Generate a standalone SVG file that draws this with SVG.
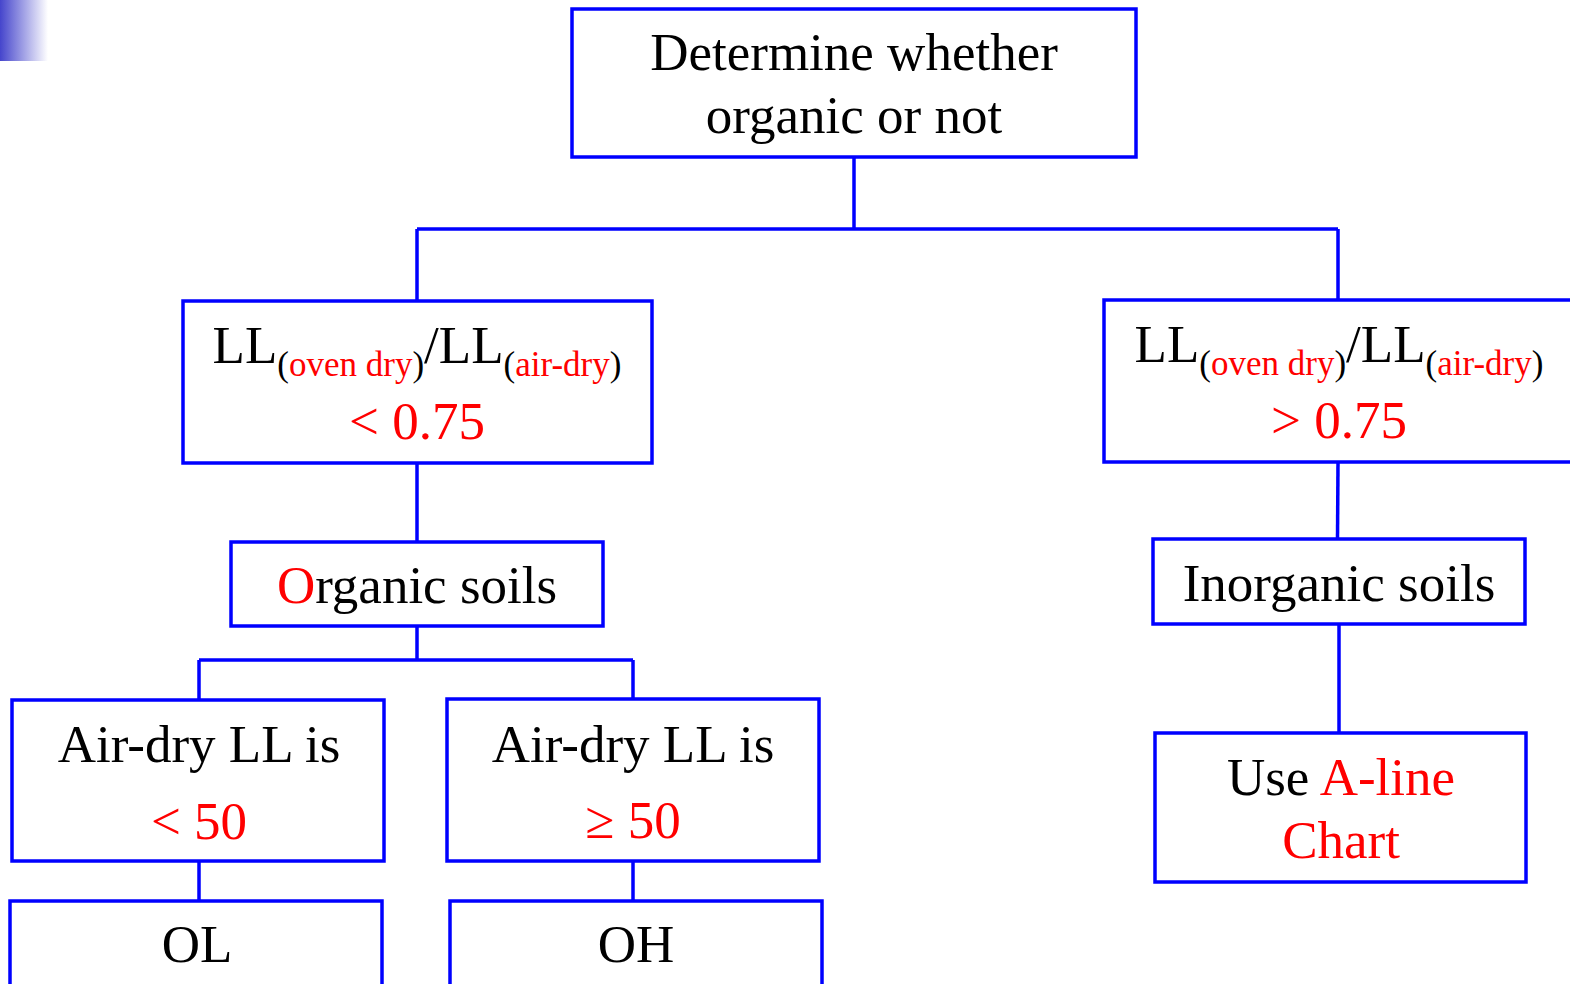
<svg xmlns="http://www.w3.org/2000/svg" width="1570" height="984" viewBox="0 0 1570 984">
  <defs>
    <linearGradient id="cornerFade" x1="0" y1="0" x2="1" y2="0">
      <stop offset="0" stop-color="#4545cc"/>
      <stop offset="1" stop-color="#ffffff"/>
    </linearGradient>
  </defs>
  <style>
    .box { fill: #ffffff; stroke: #0000ff; stroke-width: 3.5; }
    .wire { fill: none; stroke: #0000ff; stroke-width: 3.5; }
    text { font-family: "Liberation Serif", "Times New Roman", serif; font-size: 53px; fill: #000000; text-anchor: middle; }
    .red { fill: #ff0000; }
    .sub { font-size: 35px; }
  </style>

  <!-- corner accent -->
  <rect x="0" y="0" width="48" height="61" fill="url(#cornerFade)"/>

  <!-- connectors -->
  <g id="connectors">
    <path class="wire" d="M854 157 V229 M417 229 H1338 M417 229 V301 M1338 229 V300"/>
    <path class="wire" d="M417 463 V542"/>
    <path class="wire" d="M1338 462 L1337.5 539"/>
    <path class="wire" d="M417 626 V660 M199 660 H633 M199 660 V700 M633 660 V699"/>
    <path class="wire" d="M199 861 V901 M633 861 V901"/>
    <path class="wire" d="M1339 624 V733"/>
  </g>

  <g id="root">
    <rect class="box" x="572" y="9" width="564" height="148"/>
    <text x="854" y="70">Determine whether</text>
    <text x="854" y="133">organic or not</text>
  </g>

  <g id="ratio-low">
    <rect class="box" x="183" y="301" width="469" height="162"/>
    <text x="417" y="363"><tspan>LL</tspan><tspan class="sub" dy="13">(<tspan class="red">oven dry</tspan>)</tspan><tspan dy="-13">/LL</tspan><tspan class="sub" dy="13">(<tspan class="red">air-dry</tspan>)</tspan></text>
    <text class="red" x="417" y="439">&lt; 0.75</text>
  </g>

  <g id="ratio-high">
    <rect class="box" x="1104" y="300" width="480" height="162"/>
    <text x="1339" y="362"><tspan>LL</tspan><tspan class="sub" dy="13">(<tspan class="red">oven dry</tspan>)</tspan><tspan dy="-13">/LL</tspan><tspan class="sub" dy="13">(<tspan class="red">air-dry</tspan>)</tspan></text>
    <text class="red" x="1339" y="438">&gt; 0.75</text>
  </g>

  <g id="organic">
    <rect class="box" x="231" y="542" width="372" height="84"/>
    <text x="417" y="603"><tspan class="red">O</tspan>rganic soils</text>
  </g>

  <g id="inorganic">
    <rect class="box" x="1153" y="539" width="372" height="85"/>
    <text x="1339" y="601">Inorganic soils</text>
  </g>

  <g id="aline">
    <rect class="box" x="1155" y="733" width="371" height="149"/>
    <text x="1341" y="795">Use <tspan class="red">A-line</tspan></text>
    <text class="red" x="1341" y="858">Chart</text>
  </g>

  <g id="ll-low">
    <rect class="box" x="12" y="700" width="372" height="161"/>
    <text x="199" y="762">Air-dry LL is</text>
    <text class="red" x="199" y="839">&lt; 50</text>
  </g>

  <g id="ll-high">
    <rect class="box" x="447" y="699" width="372" height="162"/>
    <text x="633" y="762">Air-dry LL is</text>
    <text class="red" x="633" y="838">≥ 50</text>
  </g>

  <g id="ol">
    <rect class="box" x="10" y="901" width="372" height="100"/>
    <text x="197" y="962">OL</text>
  </g>

  <g id="oh">
    <rect class="box" x="450" y="901" width="372" height="100"/>
    <text x="636" y="962">OH</text>
  </g>
</svg>
